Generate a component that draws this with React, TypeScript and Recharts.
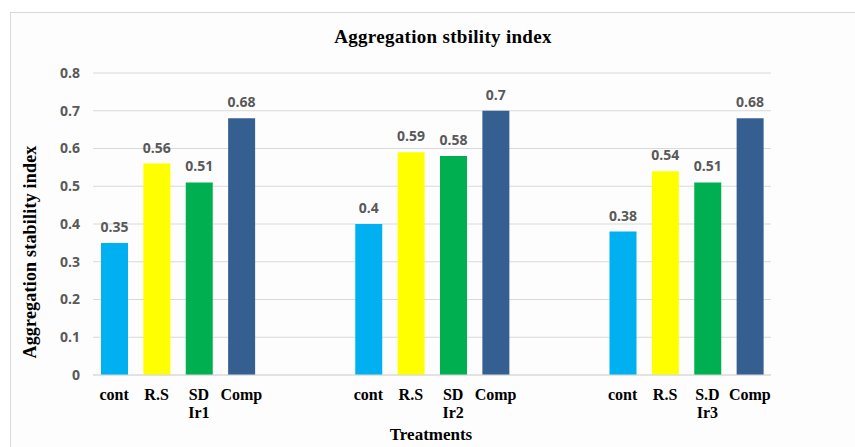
import React from 'react';
import { BarChart, Bar, XAxis, YAxis, CartesianGrid, Cell } from 'recharts';

// one group per irrigation level
const groupNames = ['Ir1', 'Ir2', 'Ir3'];
const treatmentLabels = [
  ['cont', 'R.S', 'SD|Ir1', 'Comp'],
  ['cont', 'R.S', 'SD|Ir2', 'Comp'],
  ['cont', 'R.S', 'S.D|Ir3', 'Comp'],
];
const indexValues = [
  [0.35, 0.56, 0.51, 0.68],
  [0.4, 0.59, 0.58, 0.7],
  [0.38, 0.54, 0.51, 0.68],
];
const treatmentColors = ['#00B0F0', '#FFFF00', '#00B050', '#355F91'];
const yTicks = [0, 0.1, 0.2, 0.3, 0.4, 0.5, 0.6, 0.7, 0.8];
const gapSlots = 2;

// flatten groups into one category axis, with empty slots between groups
const data: { key: string; label: string; value: number | null; color: string }[] = [];
groupNames.forEach((g, gi) => {
  treatmentLabels[gi].forEach((lab, ti) => {
    data.push({ key: `${g}-${ti}`, label: lab, value: indexValues[gi][ti], color: treatmentColors[ti] });
  });
  if (gi < groupNames.length - 1) {
    for (let k = 0; k < gapSlots; k++) {
      data.push({ key: `${g}-gap${k}`, label: '', value: null, color: 'none' });
    }
  }
});

const XTick = (props: any) => {
  const { x, y, payload } = props;
  const item = data[payload.index];
  if (!item || !item.label) return null;
  const lines = item.label.split('|');
  return (
    <text
      x={x}
      y={y}
      textAnchor="middle"
      fontFamily="'Liberation Serif', 'Times New Roman', serif"
      fontWeight="bold"
      fontSize={16}
      fill="#000"
    >
      {lines.map((l: string, i: number) => (
        <tspan key={i} x={x} dy={i === 0 ? 25 : 18}>
          {l}
        </tspan>
      ))}
    </text>
  );
};

const renderLabel = (props: any) => {
  const { x, y, width, value } = props;
  if (value == null) return null;
  return (
    <text
      x={x + width / 2}
      y={y - 11}
      textAnchor="middle"
      fontFamily="'Open Sans', sans-serif"
      fontWeight="bold"
      fontSize={14}
      fill="#595959"
    >
      {value}
    </text>
  );
};

const serif = "'Liberation Serif', 'Times New Roman', serif";

export default function App() {
  return (
    <div style={{ position: 'absolute', left: 0, top: 0, width: 855, height: 447, overflow: 'hidden', background: '#fff' }}>
      <div
        style={{
          position: 'absolute',
          left: 10,
          top: 12,
          width: 860,
          height: 450,
          border: '1px solid #d9d9d9',
          background: '#fdfdfd',
        }}
      />
      <div style={{ position: 'absolute', left: 0, top: 0 }}>
        <BarChart width={855} height={447} data={data} margin={{ top: 73, right: 84, left: 13, bottom: 0 }}>
          <CartesianGrid vertical={false} stroke="#d9d9d9" />
          <XAxis
            dataKey="key"
            height={72}
            interval={0}
            tick={<XTick />}
            tickLine={false}
            tickSize={0}
            tickMargin={0}
            axisLine={{ stroke: '#d9d9d9' }}
          />
          <YAxis
            width={80}
            domain={[0, 0.8]}
            ticks={yTicks}
            axisLine={false}
            tickLine={false}
            tickSize={6}
            tickMargin={7}
            tick={{ fontFamily: "'Open Sans', sans-serif", fontWeight: 'bold', fontSize: 14, fill: '#595959' }}
          />
          <Bar dataKey="value" barSize={27} isAnimationActive={false} label={renderLabel}>
            {data.map((d, i) => (
              <Cell key={i} fill={d.color} />
            ))}
          </Bar>
        </BarChart>
      </div>
      <div
        style={{
          position: 'absolute',
          left: 0,
          width: 886,
          top: 26,
          textAlign: 'center',
          fontFamily: serif,
          fontWeight: 'bold',
          fontSize: 19,
          letterSpacing: 0.3,
          whiteSpace: 'nowrap',
        }}
      >
        Aggregation stbility index
      </div>
      <div
        style={{
          position: 'absolute',
          left: 30,
          top: 252,
          transform: 'translate(-50%, -50%) rotate(-90deg)',
          fontFamily: serif,
          fontWeight: 'bold',
          fontSize: 18,
          letterSpacing: 0.2,
          whiteSpace: 'nowrap',
        }}
      >
        Aggregation stability index
      </div>
      <div
        style={{
          position: 'absolute',
          left: 0,
          width: 862,
          top: 425,
          textAlign: 'center',
          fontFamily: serif,
          fontWeight: 'bold',
          fontSize: 17,
          whiteSpace: 'nowrap',
        }}
      >
        Treatments
      </div>
    </div>
  );
}
